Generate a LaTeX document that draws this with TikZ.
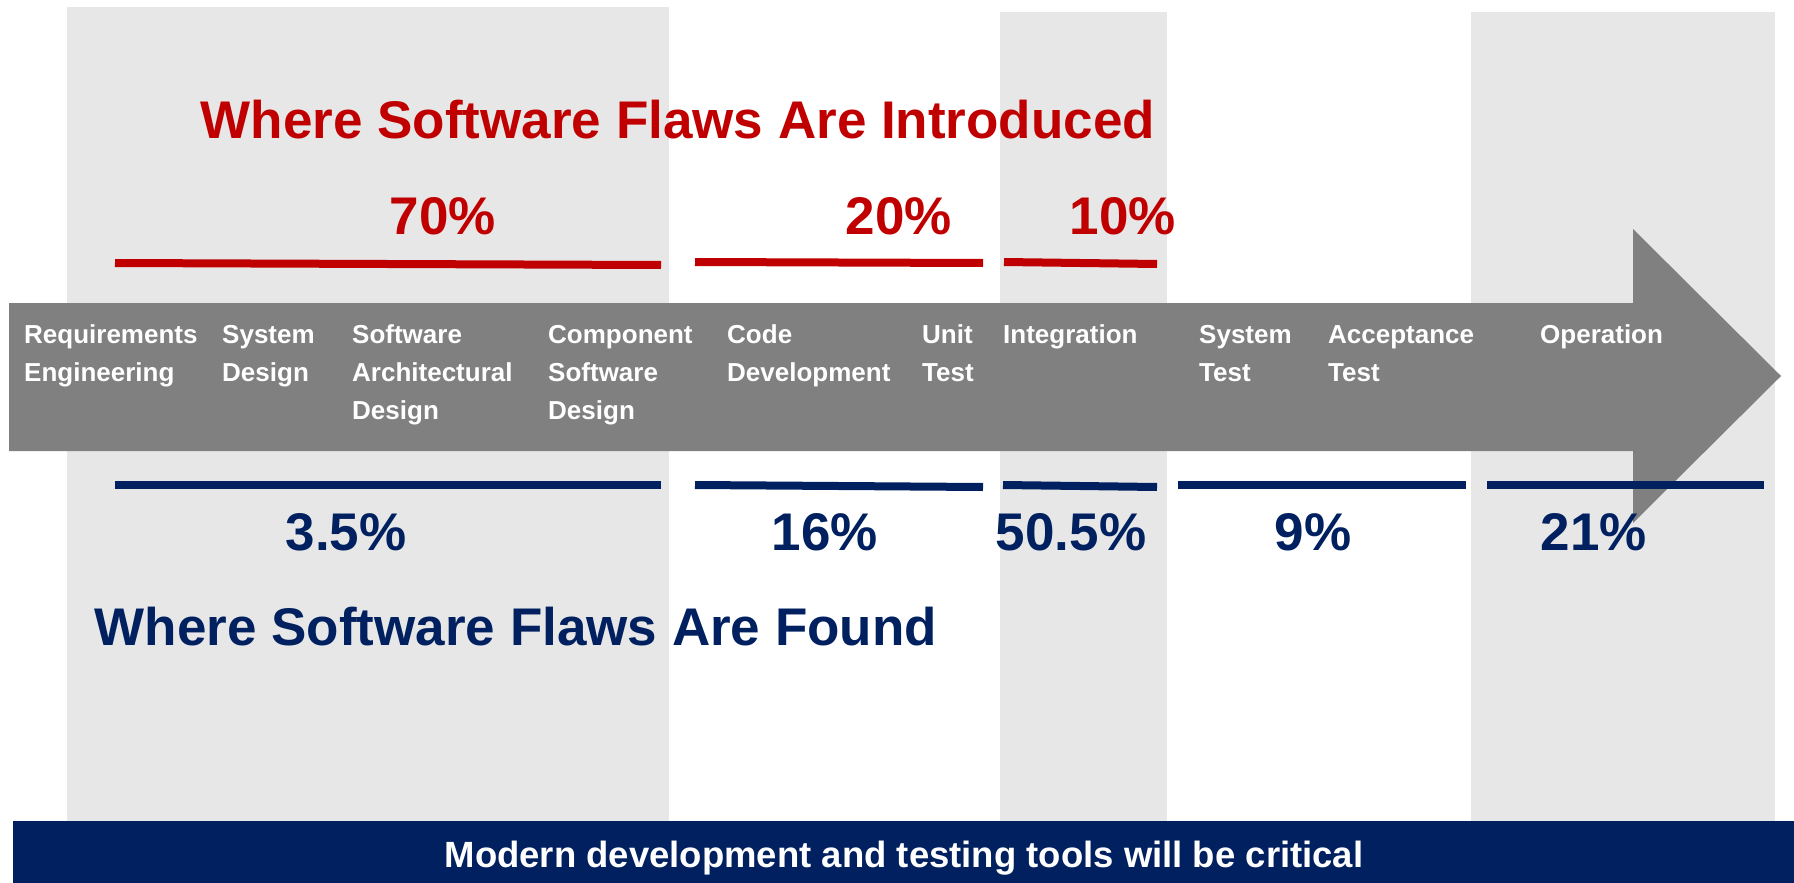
\documentclass[tikz,border=0pt]{standalone}
\usepackage{fontspec}
\setmainfont{Liberation Sans}
\definecolor{flawred}{HTML}{C00000}
\definecolor{flawblue}{HTML}{002060}
\definecolor{bandgray}{HTML}{E7E7E7}
\definecolor{arrowgray}{HTML}{808080}

\begin{document}
\begin{tikzpicture}[x=1pt, y=-1pt,
        band/.style={fill=bandgray},
        phase/.style={anchor=base west, align=left, text=white, inner sep=0pt,
            font=\fontsize{26}{38}\selectfont\bfseries},
        introline/.style={draw=flawred, line width=8pt},
        foundline/.style={draw=flawblue, line width=8pt},
        big/.style={anchor=base, inner sep=0pt, font=\fontsize{53}{60}\selectfont\bfseries}]
        \useasboundingbox (0,0) rectangle (1794,883);

        % columns behind the arrow
        \fill[band] (67,7) rectangle (669,821);
        \fill[band] (1000,12) rectangle (1167,821);
        \fill[band] (1471,12) rectangle (1775,821);

        % the life-cycle arrow
        \fill[arrowgray] (9,303) -- (1633,303) -- (1633,229) -- (1781,376)
            -- (1633,523) -- (1633,451) -- (9,451) -- cycle;

        % labels sit on the baseline of their last line
        \node[phase] (req) at (24,381) {Requirements\\Engineering};
        \node[phase] (sysdes) at (222,381) {System\\Design};
        \node[phase] (archdes) at (352,419) {Software\\Architectural\\Design};
        \node[phase] (compdes) at (548,419) {Component\\Software\\Design};
        \node[phase] (code) at (727,381) {Code\\Development};
        \node[phase] (unit) at (922,381) {Unit\\Test};
        \node[phase] (integ) at (1003,343) {Integration};
        \node[phase] (systest) at (1199,381) {System\\Test};
        \node[phase] (accept) at (1328,381) {Acceptance\\Test};
        \node[phase] (oper) at (1540,343) {Operation};

        % where flaws come in
        \node[big, text=flawred] (introtitle) at (678,138) {Where Software Flaws Are Introduced};
        \node[big, text=flawred] (intro1) at (443,234) {70\%};
        \node[big, text=flawred] (intro2) at (899,234) {20\%};
        \node[big, text=flawred] (intro3) at (1123,234) {10\%};
        \draw[introline] (115,263) -- (661,265);
        \draw[introline] (695,262) -- (983,263);
        \draw[introline] (1004,262) -- (1157,264);

        % where flaws are caught
        \draw[foundline] (115,485) -- (661,485);
        \draw[foundline] (695,485) -- (983,487);
        \draw[foundline] (1003,485) -- (1157,487);
        \draw[foundline] (1178,485) -- (1466,485);
        \draw[foundline] (1487,485) -- (1764,485);
        \node[big, text=flawblue] (found1) at (346,550) {3.5\%};
        \node[big, text=flawblue] (found2) at (825,550) {16\%};
        \node[big, text=flawblue] (found3) at (1071,550) {50.5\%};
        \node[big, text=flawblue] (found4) at (1313,550) {9\%};
        \node[big, text=flawblue] (found5) at (1594,550) {21\%};
        \node[big, text=flawblue] (foundtitle) at (516,645) {Where Software Flaws Are Found};

        % banner
        \fill[flawblue] (13,821) rectangle (1794,883);
        \node[anchor=base, inner sep=0pt, text=white, font=\fontsize{36.5}{40}\selectfont\bfseries]
            (banner) at (904,867) {Modern development and testing tools will be critical};
\end{tikzpicture}
\end{document}
